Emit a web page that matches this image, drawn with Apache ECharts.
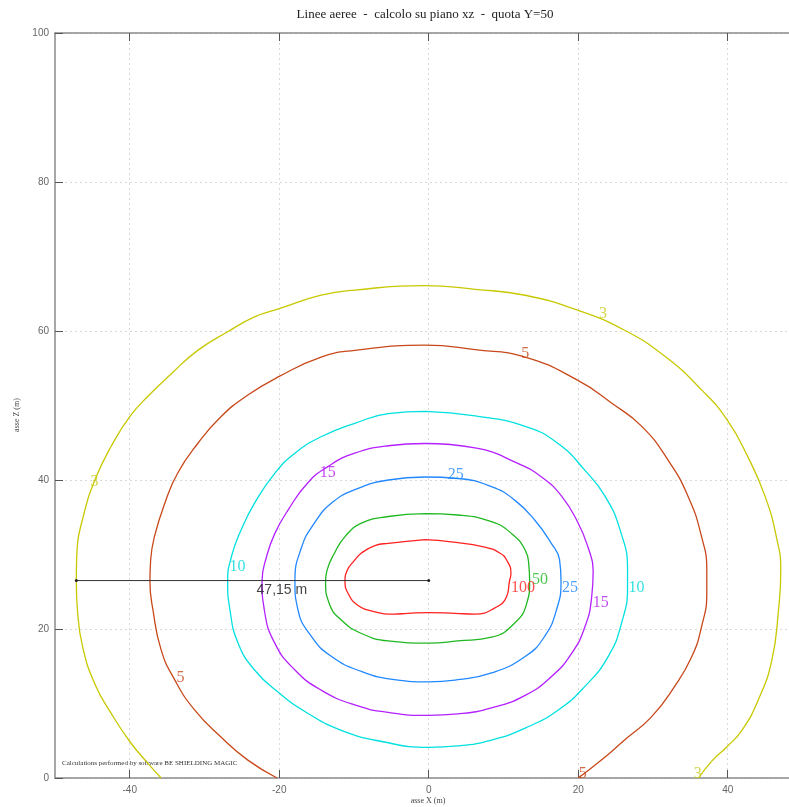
<!DOCTYPE html>
<html>
<head>
<meta charset="utf-8">
<script src="https://cdn.jsdelivr.net/npm/echarts@6/dist/echarts.min.js"></script>
<style>
html, body { margin: 0; padding: 0; background: #fff; }
#chart { width: 789px; height: 807px; }
</style>
</head>
<body>
<div id="chart"></div>
<script>
let xTicks = [-40, -20, 0, 20, 40];

// contour lines, [x, z] in metres
let contour3 = [[-35.8,0],[-37.6,2.0],[-40.0,4.9],[-42.5,8.7],[-44.7,12.7],[-46.3,17.6],[-47.0,22.6],[-47.15,26.5],[-47.1,29.5],[-46.0,36.0],[-44.5,40.4],[-42.5,44.5],[-40.0,48.5],[-37.6,51.2],[-34.4,54.3],[-30.9,57.4],[-26.9,59.9],[-23.3,61.9],[-20.0,63.0],[-14.4,64.8],[-9.9,65.5],[-0.5,66.1],[6.2,65.6],[12.9,64.8],[19.9,62.8],[26.2,60.1],[31.6,56.6],[36.5,52.1],[39.9,48.1],[42.7,43.1],[45.0,37.8],[46.5,32.4],[47.1,27.9],[46.8,22.6],[45.9,15.8],[44.1,10.5],[41.9,6.4],[39.9,4.2],[37.9,2.3],[36.1,0]];
let contour5 = [[-20.3,0],[-24.2,2.4],[-27.8,5.5],[-31.3,9.1],[-34.0,13.2],[-35.8,17.2],[-36.9,22.6],[-37.3,26.4],[-37.2,29.3],[-36.7,32.4],[-35.3,36.9],[-33.6,40.9],[-30.9,44.9],[-27.8,48.5],[-24.2,51.4],[-20.0,53.9],[-14.4,56.5],[-9.9,57.4],[-0.5,58.1],[6.2,57.5],[12.9,56.5],[19.9,53.4],[24.5,50.3],[28.5,47.2],[32.0,42.7],[34.7,37.8],[36.5,32.4],[37.2,27.9],[37.2,24.8],[36.5,20.3],[35.2,16.3],[32.9,12.3],[29.8,8.2],[26.2,5.1],[23.1,2.4],[20.0,0]];
let contour10 = [[-0.5,49.2],[-5.4,48.9],[-9.9,47.6],[-14.4,45.8],[-17.9,43.6],[-20.6,40.9],[-23.3,36.9],[-25.1,33.3],[-26.4,29.7],[-26.9,26.4],[-26.6,22.6],[-25.5,18.1],[-23.3,14.5],[-20.0,11.4],[-16.2,8.7],[-11.7,6.4],[-6.3,4.9],[0,4.1],[3.9,4.3],[8.4,5.1],[12.9,6.7],[17.3,9.1],[20.9,12.3],[24.0,16.3],[25.8,20.8],[26.6,25.7],[26.6,27.9],[25.6,33.3],[23.6,37.8],[20.9,41.3],[17.3,44.9],[12.9,47.2],[6.2,48.6],[-0.5,49.2]];
let contour15 = [[-0.5,44.9],[-5.4,44.6],[-9.9,43.6],[-13.5,41.8],[-16.2,39.6],[-18.8,36.0],[-20.6,32.8],[-21.7,29.7],[-22.3,26.4],[-22.0,22.6],[-20.6,18.1],[-17.9,14.5],[-14.4,11.8],[-9.9,9.8],[-5.4,8.8],[0,8.4],[3.9,8.6],[8.4,9.4],[12.9,11.1],[16.4,13.6],[19.1,16.7],[20.9,20.3],[21.8,24.3],[22.0,27.9],[21.3,31.0],[20.0,34.2],[17.8,37.8],[15.1,40.4],[12.0,42.2],[6.2,44.3],[-0.5,44.9]];
let contour25 = [[-0.5,40.4],[-5.4,40.0],[-9.9,38.7],[-13.0,36.9],[-15.3,34.2],[-17.0,31.0],[-17.9,26.4],[-17.5,22.6],[-15.7,19.0],[-13.0,16.3],[-9.0,14.3],[-4.6,13.2],[0,12.9],[3.9,13.2],[8.4,14.1],[12.9,16.3],[15.5,19.0],[17.1,22.6],[17.7,26.4],[17.5,29.3],[16.4,31.5],[14.2,34.6],[11.5,37.3],[8.4,39.1],[3.9,40.2],[-0.5,40.4]];
let contour50 = [[-0.5,35.5],[-5.4,35.1],[-9.0,34.2],[-11.2,32.4],[-12.6,30.2],[-13.6,27.9],[-13.8,26.4],[-13.3,23.4],[-11.7,21.2],[-9.0,19.4],[-5.4,18.4],[0,18.1],[3.9,18.4],[8.4,18.9],[11.5,20.8],[13.1,23.4],[13.5,26.4],[13.4,28.5],[12.9,30.6],[11.1,32.8],[8.4,34.4],[3.9,35.3],[-0.5,35.5]];
let contour100 = [[-0.5,32.0],[-5.4,31.5],[-7.2,31.2],[-9.0,30.2],[-10.1,29.0],[-10.9,27.9],[-11.2,26.4],[-10.8,24.8],[-9.5,23.2],[-7.2,22.3],[-4.6,22.0],[-2.8,22.1],[0,22.2],[3.5,22.1],[6.2,22.0],[8.8,22.8],[10.4,24.3],[10.8,26.4],[11.0,27.5],[10.4,29.3],[9.5,30.2],[7.5,31.0],[3.0,31.7],[-0.5,32.0]];

// label positions [x, z] for each level
let labels3 = [[-44.7,39.7],[23.3,62.3],[36.0,0.6]];
let labels5 = [[12.9,57.0],[-33.2,13.4],[20.6,0.6]];
let labels10 = [[-25.6,28.3],[27.8,25.5]];
let labels15 = [[-13.5,40.9],[23.0,23.5]];
let labels25 = [[3.6,40.7],[18.9,25.5]];
let labels50 = [[14.9,26.6]];
let labels100 = [[12.6,25.5]];

let distanceLine = [[-47.15,26.5],[0,26.5]];
let distanceLabel = [[-19.65,25.2,"47,15 m"]];

let levels = [
	{name: "3", line: contour3, labels: labels3, color: "#c8c800", text: "#cccc22"},
	{name: "5", line: contour5, labels: labels5, color: "#c8481a", text: "#c8481a"},
	{name: "10", line: contour10, labels: labels10, color: "#00e0e0", text: "#00dada"},
	{name: "15", line: contour15, labels: labels15, color: "#b420ff", text: "#b420ee"},
	{name: "25", line: contour25, labels: labels25, color: "#2288ff", text: "#2288ff"},
	{name: "50", line: contour50, labels: labels50, color: "#20b820", text: "#20b820"},
	{name: "100", line: contour100, labels: labels100, color: "#ff2020", text: "#ff2020"}
];

let chart = echarts.init(document.getElementById("chart"), null, {renderer: "canvas"});

let series = [];
levels.forEach(level => {
	series.push({
		type: "line",
		data: level.line,
		smooth: 0.5,
		showSymbol: false,
		silent: true,
		lineStyle: {color: level.color, width: 1.3},
		z: 3
	});
});
levels.forEach(level => {
	series.push({
		type: "scatter",
		data: level.labels,
		symbolSize: 0,
		silent: true,
		label: {
			show: true,
			position: "inside",
			formatter: level.name,
			color: level.text,
			fontFamily: "Liberation Serif",
			fontSize: 16
		},
		z: 5
	});
});
series.push({
	type: "line",
	data: distanceLine,
	showSymbol: true,
	symbol: "circle",
	symbolSize: 3,
	silent: true,
	itemStyle: {color: "#222"},
	lineStyle: {color: "#333", width: 1},
	z: 4
});
series.push({
	type: "scatter",
	data: distanceLabel,
	symbolSize: 0,
	silent: true,
	label: {
		show: true,
		position: "inside",
		formatter: p => p.value[2],
		color: "#111",
		fontFamily: "Liberation Sans",
		fontSize: 14
	},
	z: 5
});

let axisGray = "#8a8a8a";
chart.setOption({
	animation: false,
	grid: {left: 55, top: 33, right: 0, bottom: 29},
	xAxis: [{
		type: "value",
		min: -50,
		max: 48.2,
		position: "bottom",
		axisLine: {show: true, onZero: false, lineStyle: {color: axisGray, width: 1.5}},
		axisTick: {show: true, inside: true, length: 8, customValues: xTicks, lineStyle: {color: "#555"}},
		axisLabel: {customValues: xTicks, color: "#666", fontSize: 10, fontFamily: "Liberation Sans", margin: 7},
		splitLine: {show: true, lineStyle: {color: "#d8d8d8", type: [2, 3], width: 1}}
	}, {
		type: "value",
		min: -50,
		max: 48.2,
		position: "top",
		axisLine: {show: true, onZero: false, lineStyle: {color: axisGray, width: 1.5}},
		axisTick: {show: true, inside: true, length: 8, customValues: xTicks, lineStyle: {color: "#555"}},
		axisLabel: {show: false},
		splitLine: {show: false}
	}],
	yAxis: {
		type: "value",
		min: 0,
		max: 100,
		interval: 20,
		axisLine: {show: true, onZero: false, lineStyle: {color: axisGray, width: 1.5}},
		axisTick: {show: true, inside: true, length: 8, lineStyle: {color: "#555"}},
		axisLabel: {color: "#666", fontSize: 10, fontFamily: "Liberation Sans", margin: 6},
		splitLine: {show: true, lineStyle: {color: "#d8d8d8", type: [2, 3], width: 1}}
	},
	graphic: [
		{type: "text", x: 425, y: 15, style: {text: "Linee aeree  -  calcolo su piano xz  -  quota Y=50", font: "13px 'Liberation Serif'", fill: "#222", textAlign: "center", textVerticalAlign: "middle"}},
		{type: "text", x: 428, y: 801, style: {text: "asse X (m)", font: "8px 'Liberation Serif'", fill: "#444", textAlign: "center", textVerticalAlign: "middle"}},
		{type: "text", x: 17, y: 415, rotation: Math.PI / 2, style: {text: "asse Z (m)", font: "8px 'Liberation Serif'", fill: "#444", textAlign: "center", textVerticalAlign: "middle"}},
		{type: "text", x: 62, y: 763, style: {text: "Calculations performed by software BE SHIELDING MAGIC", font: "7px 'Liberation Serif'", fill: "#333", textVerticalAlign: "middle"}}
	],
	series
});
</script>
</body>
</html>
